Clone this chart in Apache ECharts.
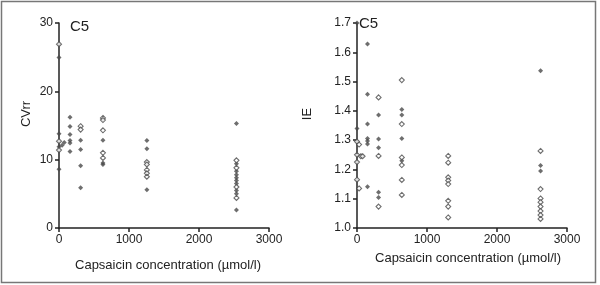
<!DOCTYPE html>
<html>
<head>
<meta charset="utf-8">
<script src="https://cdn.jsdelivr.net/npm/echarts@6/dist/echarts.min.js"></script>
<style>
    html, body { margin: 0; padding: 0; background: #fff; }
    #chart { width: 600px; height: 285px; }
</style>
</head>
<body>
<div id="chart"></div>
<script>
// CVrr panel (left) - filled and open markers
const cvFilledX = [0, 0, 0, 0, 45, 75, 157, 157, 157, 157, 157, 157, 309, 309, 309, 309, 628, 628, 628, 1255, 1255, 1255,
    2535, 2535, 2535, 2535, 2535, 2535, 2535, 2535, 2535, 2535];
const cvFilledY = [24.95, 13.8, 11.9, 8.6, 12.1, 12.5, 16.2, 14.85, 13.7, 12.8, 12.45, 11.2, 12.85, 11.5, 9.1, 5.9, 12.85, 9.5, 9.3, 12.8, 11.6, 5.6,
    15.3, 9.4, 8.3, 7.8, 7.35, 6.95, 6.5, 5.5, 5.0, 2.65];
const cvOpenX = [0, 0, 0, 309, 309, 628, 628, 628, 628, 628, 1255, 1255, 1255, 1255, 1255, 2535, 2535, 2535, 2535];
const cvOpenY = [26.9, 12.7, 11.4, 14.9, 14.4, 16.1, 15.8, 14.3, 11.0, 10.25, 9.65, 9.3, 8.5, 8.0, 7.5, 9.9, 8.8, 6.0, 4.4];

// IE panel (right)
const ieFilledX = [0, 0, 150, 150, 150, 150, 150, 150, 150, 308, 308, 308, 308, 308, 640, 640, 640, 640, 2622, 2622, 2622];
const ieFilledY = [1.70, 1.34, 1.628, 1.457, 1.355, 1.306, 1.297, 1.287, 1.141, 1.386, 1.304, 1.274, 1.122, 1.104, 1.405, 1.386, 1.306, 1.23, 1.537, 1.213, 1.195];
const ieOpenX = [0, 0, 0, 0, 30, 30, 55, 80, 308, 308, 308, 640, 640, 640, 640, 640, 640,
    1303, 1303, 1303, 1303, 1303, 1303, 1303, 1303, 2622, 2622, 2622, 2622, 2622, 2622, 2622, 2622];
const ieOpenY = [1.295, 1.25, 1.225, 1.165, 1.285, 1.135, 1.245, 1.245, 1.446, 1.246, 1.073, 1.505, 1.355, 1.241, 1.215, 1.164, 1.113,
    1.246, 1.223, 1.173, 1.162, 1.15, 1.093, 1.073, 1.036, 1.263, 1.133, 1.101, 1.088, 1.073, 1.058, 1.044, 1.031];

const xTicks = [0, 1000, 2000, 3000];
const xTitle = 'Capsaicin concentration (µmol/l)';

function zip(xs, ys) {
    return xs.map((x, i) => [x, ys[i]]);
}

const font = 'Liberation Sans, Arial, sans-serif';
const axisColor = '#222';

function xAxisCfg(gridIndex) {
    return {
        gridIndex: gridIndex,
        type: 'value',
        min: xTicks[0],
        max: xTicks[xTicks.length - 1],
        interval: 1000,
        axisLine: { lineStyle: { color: axisColor, width: 1.5 } },
        axisTick: { show: true, length: 4, lineStyle: { color: axisColor, width: 1.5 } },
        axisLabel: { color: '#222', fontSize: 12, fontFamily: font, margin: 6, formatter: v => String(v) },
        splitLine: { show: false }
    };
}

const filledStyle = { symbol: 'diamond', symbolSize: 5, clip: false, itemStyle: { color: '#4a4a4a' } };
const openStyle = {
    symbol: 'diamond', symbolSize: 5, clip: false,
    itemStyle: { color: '#fff', borderColor: '#4a4a4a', borderWidth: 1.1 }
};

const chart = echarts.init(document.getElementById('chart'));

const option = {
    animation: false,
    backgroundColor: '#fff',
    grid: [
        { left: 59, right: 331, top: 23, bottom: 57 },
        { left: 357, right: 33, top: 23, bottom: 57 }
    ],
    xAxis: [xAxisCfg(0), xAxisCfg(1)],
    yAxis: [
        {
            gridIndex: 0,
            type: 'value',
            min: 0,
            max: 30,
            interval: 10,
            axisLine: { show: true, lineStyle: { color: axisColor, width: 1.5 } },
            axisTick: { show: true, length: 4, lineStyle: { color: axisColor, width: 1.5 } },
            axisLabel: { color: '#222', fontSize: 12, fontFamily: font, margin: 6 },
            splitLine: { show: false }
        },
        {
            gridIndex: 1,
            type: 'value',
            min: 1.0,
            max: 1.7,
            interval: 0.1,
            axisLine: { show: true, lineStyle: { color: axisColor, width: 1.5 } },
            axisTick: { show: true, length: 4, lineStyle: { color: axisColor, width: 1.5 } },
            axisLabel: {
                color: '#222', fontSize: 12, fontFamily: font, margin: 6,
                formatter: v => v.toFixed(1)
            },
            splitLine: { show: false }
        }
    ],
    series: [
        Object.assign({ type: 'scatter', xAxisIndex: 0, yAxisIndex: 0, data: zip(cvFilledX, cvFilledY) }, filledStyle),
        Object.assign({ type: 'scatter', xAxisIndex: 0, yAxisIndex: 0, data: zip(cvOpenX, cvOpenY) }, openStyle),
        Object.assign({ type: 'scatter', xAxisIndex: 1, yAxisIndex: 1, data: zip(ieFilledX, ieFilledY) }, filledStyle),
        Object.assign({ type: 'scatter', xAxisIndex: 1, yAxisIndex: 1, data: zip(ieOpenX, ieOpenY) }, openStyle)
    ],
    graphic: [
        {
            type: 'rect',
            shape: { x: 1.5, y: 1.5, width: 594, height: 281 },
            style: { fill: 'none', stroke: '#777', lineWidth: 1.5 },
            silent: true
        },
        { type: 'text', left: 70, top: 19, style: { text: 'C5', fontSize: 15, fontFamily: font, fill: '#222' } },
        { type: 'text', left: 359, top: 16, style: { text: 'C5', fontSize: 15, fontFamily: font, fill: '#222' } },
        {
            type: 'text', x: 26, y: 114, rotation: Math.PI / 2,
            style: { text: 'CVrr', fontSize: 13, fontFamily: font, fill: '#222', align: 'center', verticalAlign: 'middle' }
        },
        {
            type: 'text', x: 307, y: 114, rotation: Math.PI / 2,
            style: { text: 'IE', fontSize: 13, fontFamily: font, fill: '#222', align: 'center', verticalAlign: 'middle' }
        },
        {
            type: 'text', x: 168, y: 265,
            style: { text: xTitle, fontSize: 13, fontFamily: font, fill: '#222', align: 'center', verticalAlign: 'middle' }
        },
        {
            type: 'text', x: 468, y: 258,
            style: { text: xTitle, fontSize: 13, fontFamily: font, fill: '#222', align: 'center', verticalAlign: 'middle' }
        }
    ]
};

chart.setOption(option);
window.addEventListener('resize', () => chart.resize());
</script>
</body>
</html>
